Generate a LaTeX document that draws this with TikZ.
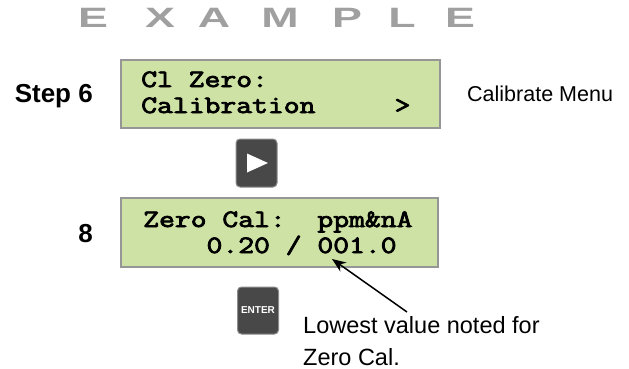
\documentclass[tikz,border=0pt]{standalone}
\usepackage{fontspec}
\newfontfamily\arial{Liberation Sans}
\newfontfamily\lcdfont{Latin Modern Mono}[FakeBold=3]
\usetikzlibrary{arrows.meta}
\definecolor{lcd}{RGB}{206,226,165}
\definecolor{lcdborder}{RGB}{150,150,150}
\definecolor{btn}{RGB}{72,72,72}
\definecolor{btnborder}{RGB}{140,140,140}
\definecolor{wm}{RGB}{160,160,160}
\begin{document}
\begin{tikzpicture}[x=1pt,y=-1pt,
  lcdbox/.style={draw=lcdborder,fill=lcd,line width=2pt,inner sep=0pt,minimum width=319pt,minimum height=68pt},
  lcdtext/.style={anchor=base west,inner sep=0pt,font=\fontsize{25}{25}\selectfont\lcdfont\bfseries,xscale=1.23},
  steplabel/.style={anchor=base east,inner sep=0pt,font=\fontsize{26}{26}\selectfont\arial\bfseries},
  note/.style={anchor=base west,inner sep=0pt,font=\fontsize{21.5}{21.5}\selectfont\arial},
  wmletter/.style={anchor=base,inner sep=0pt,font=\fontsize{28}{28}\selectfont\arial\bfseries,text=wm,xscale=1.6},
  button/.style={draw=btnborder,fill=btn,line width=1pt,rounded corners=4pt,inner sep=0pt,minimum width=41pt,minimum height=47pt}
]
\useasboundingbox (0,0) rectangle (629,369);
% watermark
\node[wmletter] (w1) at (93,28) {E};
\node[wmletter] (w2) at (160,28) {X};
\node[wmletter] (w3) at (214,28) {A};
\node[wmletter] (w4) at (280,28) {M};
\node[wmletter] (w5) at (347,28) {P};
\node[wmletter] (w6) at (402,28) {L};
\node[wmletter] (w7) at (460,28) {E};
% step 6
\node[steplabel] (s6) at (93,102.5) {Step 6};
\node[lcdbox] (box1) at (280,94) {};
\node[lcdtext] (b1l1) at (141,87) {Cl Zero:};
\node[lcdtext] (b1l2) at (141,113) {Calibration\ \ \ \ \ >};
\node[note] (menu) at (467,101) {Calibrate Menu};
% right button
\node[button,minimum height=48pt] (right) at (256.5,163) {};
\fill[white] ([xshift=-9.5pt,yshift=9.5pt]right.center) -- ([xshift=-9.5pt,yshift=-9.5pt]right.center) -- ([xshift=11.5pt]right.center) -- cycle;
% step 8
\node[steplabel] (s8) at (93,242) {8};
\node[lcdbox,minimum width=317pt,minimum height=69pt] (box2) at (279.5,232.5) {};
\node[lcdtext] (b2l1) at (143,227) {Zero Cal:\ \ ppm\&nA};
\node[lcdtext] (b2l2) at (143,253) {\ \ \ \ 0.20 / 001.0};
% enter button
\node[button] (enter) at (258,310.5) {};
\node[inner sep=0pt,font=\fontsize{10}{10}\selectfont\arial\bfseries,text=white] (entertxt) at (enter.center) {ENTER};
% annotation
\node[note,font=\fontsize{23.5}{23.5}\selectfont\arial] (n1) at (303,333) {Lowest value noted for};
\node[note,font=\fontsize{23.5}{23.5}\selectfont\arial] (n2) at (303,365) {Zero Cal.};
\coordinate (tail) at (407,312);
\coordinate (tip) at (332,259);
\draw[line width=1.5pt,-{Stealth[length=14pt,width=11pt]}] (tail) -- (tip);
\end{tikzpicture}
\end{document}
